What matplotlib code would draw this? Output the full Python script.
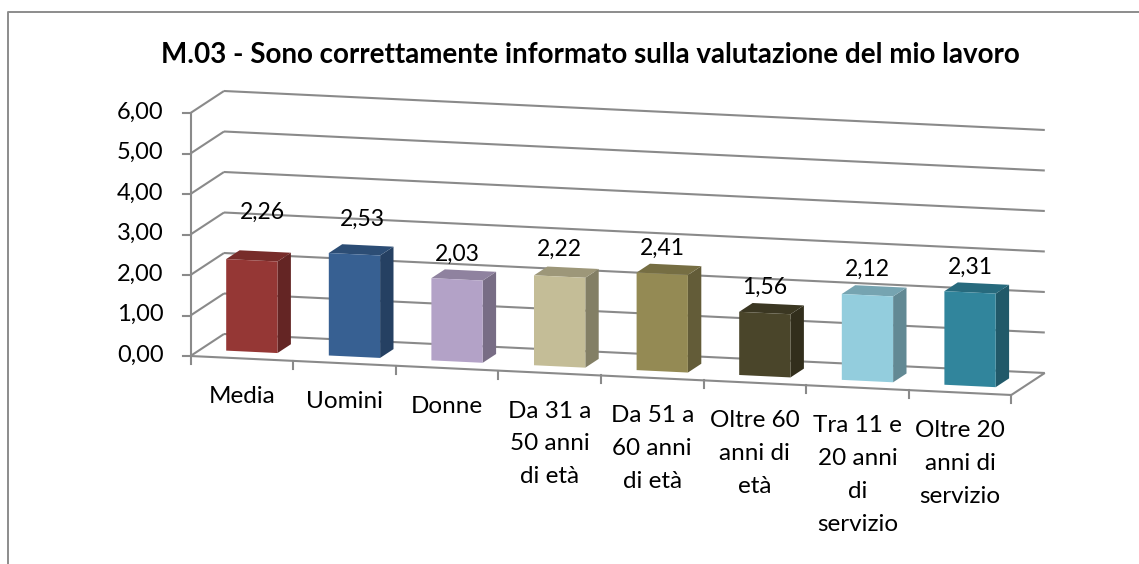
import numpy as np
import matplotlib
matplotlib.use("Agg")
import matplotlib.pyplot as plt
from matplotlib.patches import Polygon

plt.rcParams["font.family"] = ["Lato", "DejaVu Sans"]

TITLE = "M.03 - Sono correttamente informato sulla valutazione del mio lavoro"

categories = [
    "Media",
    "Uomini",
    "Donne",
    "Da 31 a\n50 anni\ndi età",
    "Da 51 a\n60 anni\ndi età",
    "Oltre 60\nanni di\netà",
    "Tra 11 e\n20 anni\ndi\nservizio",
    "Oltre 20\nanni di\nservizio",
]
values = [2.26, 2.53, 2.03, 2.22, 2.41, 1.56, 2.12, 2.31]
y_ticks = [0, 1, 2, 3, 4, 5, 6]
bar_colors = ["#953735", "#376092", "#b3a2c7", "#c4bd97",
              "#948a54", "#4a452a", "#93cddd", "#31859c"]

# data labels were moved by hand in the original, first two sit off the bar
label_dx = [11, 8, 0, 0, 0, 0, 0, 0]
label_lift = [48, 35, 25, 27, 25, 26, 26, 25]

GRID = "#8a8a8a"
W, H = 1139, 564

# oblique projection of the 3D box, in image pixels
ORIGIN_X, ORIGIN_Y = 190.5, 356.0
CAT_STEP = 102.6
FLOOR_SLOPE = 0.0475
PX_PER_UNIT = 40.5
DEPTH_X, DEPTH_Y = 33.5, -22.0


def proj(cat, val, depth=0.0):
    u = cat * CAT_STEP
    x = ORIGIN_X + u + DEPTH_X * depth
    y = ORIGIN_Y + FLOOR_SLOPE * u + DEPTH_Y * depth - PX_PER_UNIT * val
    return x, y


def line3d(ax, a, b, **kw):
    xa, ya = proj(*a)
    xb, yb = proj(*b)
    ax.plot([xa, xb], [ya, yb], color=GRID, lw=1.5, solid_capstyle="butt", **kw)


def shade(color, factor):
    rgb = np.array(matplotlib.colors.to_rgb(color))
    return tuple(rgb * factor)


def draw_bar(ax, i, val, color):
    c0, c1 = i + 0.25, i + 0.75
    d0, d1 = 0.3, 0.7
    front = [proj(c0, 0, d0), proj(c1, 0, d0), proj(c1, val, d0), proj(c0, val, d0)]
    side = [proj(c1, 0, d0), proj(c1, 0, d1), proj(c1, val, d1), proj(c1, val, d0)]
    top = [proj(c0, val, d0), proj(c1, val, d0), proj(c1, val, d1), proj(c0, val, d1)]
    ax.add_patch(Polygon(side, fc=shade(color, 0.67), ec="none", zorder=3))
    ax.add_patch(Polygon(top, fc=shade(color, 0.8), ec="none", zorder=3))
    ax.add_patch(Polygon(front, fc=color, ec="none", zorder=3))


def main():
    n = len(categories)
    fig = plt.figure(figsize=(W / 100, H / 100), dpi=100, facecolor="white")
    ax = fig.add_axes([0, 0, 1, 1])
    ax.set_xlim(0, W)
    ax.set_ylim(H, 0)
    ax.axis("off")

    # chart area border, only top and left are inside the crop
    ax.plot([8, 8, W], [H, 11.5, 11.5], color="#8c8c8c", lw=1.4)

    ax.text(590.5, 55, TITLE, ha="center", va="center", fontsize=20, fontweight="bold")

    # walls and floor
    for v in y_ticks:
        line3d(ax, (0, v, 1), (n, v, 1))
        line3d(ax, (0, v, 0), (0, v, 1))
        x, y = proj(0, v)
        ax.plot([x - 8, x], [y, y], color=GRID, lw=1.5)
        ax.text(x - 27, y - 1, f"{v:.2f}".replace(".", ","), ha="right", va="center", fontsize=17)
    line3d(ax, (0, 0, 0), (0, y_ticks[-1], 0))
    line3d(ax, (0, 0, 0), (n, 0, 0))
    line3d(ax, (n, 0, 0), (n, 0, 1))
    for i in range(n + 1):
        x, y = proj(i, 0)
        ax.plot([x, x], [y, y + 8], color=GRID, lw=1.5)

    for i, (val, col) in enumerate(zip(values, bar_colors)):
        draw_bar(ax, i, val, col)

        x, y = proj(i + 0.5, val, 0.3)
        ax.text(x + label_dx[i], y - label_lift[i], f"{val:.2f}".replace(".", ","),
                ha="center", va="center", fontsize=16.5, zorder=5)

        x, y = proj(i + 0.5, 0)
        ax.text(x, y + 27.5, categories[i], ha="center", va="top", fontsize=17.5,
                linespacing=1.7, zorder=5)

    fig.savefig("out.png", dpi=100)
    plt.close(fig)


if __name__ == "__main__":
    main()
